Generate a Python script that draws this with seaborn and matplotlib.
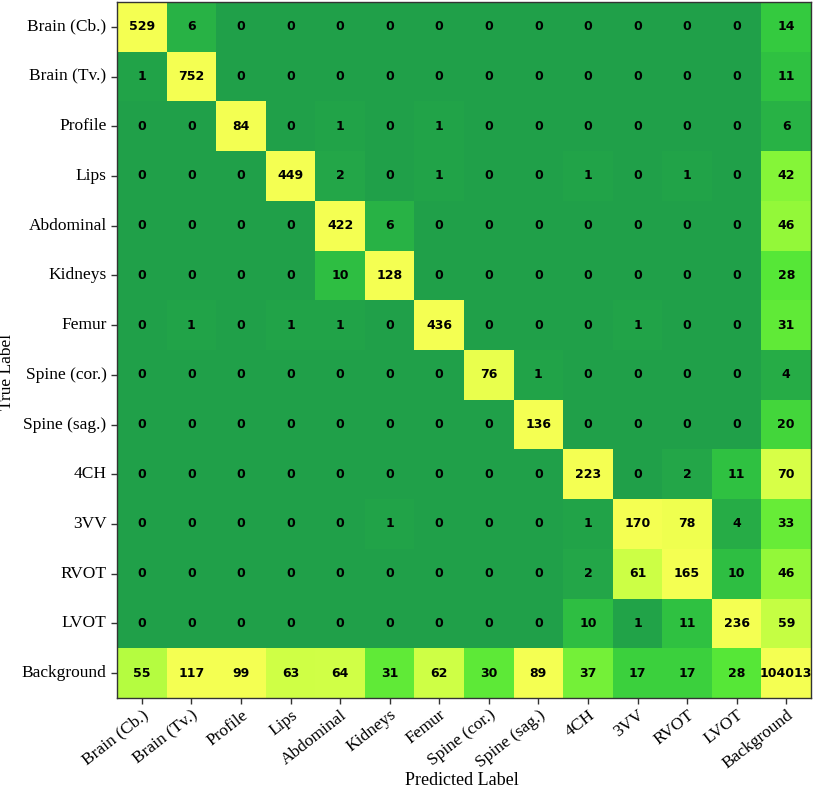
import numpy as np
import pandas as pd
import matplotlib
matplotlib.use("Agg")
import matplotlib.pyplot as plt
import seaborn as sns
from matplotlib.colors import LinearSegmentedColormap

labels = ["Brain (Cb.)", "Brain (Tv.)", "Profile", "Lips", "Abdominal", "Kidneys",
          "Femur", "Spine (cor.)", "Spine (sag.)", "4CH", "3VV", "RVOT", "LVOT", "Background"]

row_brain_cb = [529, 6, 0, 0, 0, 0, 0, 0, 0, 0, 0, 0, 0, 14]
row_brain_tv = [1, 752, 0, 0, 0, 0, 0, 0, 0, 0, 0, 0, 0, 11]
row_profile = [0, 0, 84, 0, 1, 0, 1, 0, 0, 0, 0, 0, 0, 6]
row_lips = [0, 0, 0, 449, 2, 0, 1, 0, 0, 1, 0, 1, 0, 42]
row_abdominal = [0, 0, 0, 0, 422, 6, 0, 0, 0, 0, 0, 0, 0, 46]
row_kidneys = [0, 0, 0, 0, 10, 128, 0, 0, 0, 0, 0, 0, 0, 28]
row_femur = [0, 1, 0, 1, 1, 0, 436, 0, 0, 0, 1, 0, 0, 31]
row_spine_cor = [0, 0, 0, 0, 0, 0, 0, 76, 1, 0, 0, 0, 0, 4]
row_spine_sag = [0, 0, 0, 0, 0, 0, 0, 0, 136, 0, 0, 0, 0, 20]
row_4ch = [0, 0, 0, 0, 0, 0, 0, 0, 0, 223, 0, 2, 11, 70]
row_3vv = [0, 0, 0, 0, 0, 1, 0, 0, 0, 1, 170, 78, 4, 33]
row_rvot = [0, 0, 0, 0, 0, 0, 0, 0, 0, 2, 61, 165, 10, 46]
row_lvot = [0, 0, 0, 0, 0, 0, 0, 0, 0, 10, 1, 11, 236, 59]
row_background = [55, 117, 99, 63, 64, 31, 62, 30, 89, 37, 17, 17, 28, 104013]

cm = pd.DataFrame([row_brain_cb, row_brain_tv, row_profile, row_lips, row_abdominal,
                   row_kidneys, row_femur, row_spine_cor, row_spine_sag, row_4ch,
                   row_3vv, row_rvot, row_lvot, row_background],
                  index=labels, columns=labels)

# green -> lime -> yellow
cmap = LinearSegmentedColormap.from_list(
    "greenyellow",
    [(0.0, "#20a049"), (0.16, "#33c93f"), (0.33, "#56e737"),
     (0.52, "#8cf738"), (0.72, "#cdff45"), (0.82, "#d6ff47"),
     (0.92, "#f0ff4f"), (1.0, "#f4ff52")])

fig = plt.figure(figsize=(8.15, 7.92), dpi=100)
ax = fig.add_axes([0.1436, 0.1187, 0.8515, 0.8788])

sns.heatmap(cm, annot=True, fmt="d", cmap=cmap, vmin=0, vmax=85, cbar=False,
            annot_kws={"fontsize": 9, "fontweight": "bold", "color": "black",
                       "family": "DejaVu Sans"},
            ax=ax)

for s in ax.spines.values():
    s.set_visible(True)
    s.set_color("#333333")
    s.set_linewidth(1.0)

ax.tick_params(axis="both", length=4, width=1, color="#333333")
ax.tick_params(axis="x", pad=2.5)
ax.set_xticklabels(labels, rotation=38, ha="right", rotation_mode="anchor",
                   family="Liberation Serif", fontsize=12.5)
ax.set_yticklabels(labels, rotation=0, family="Liberation Serif", fontsize=12.5)
ax.set_xlabel("Predicted Label", family="Liberation Serif", fontsize=13)
ax.set_ylabel("True Label", family="Liberation Serif", fontsize=12.5)
ax.xaxis.set_label_coords(0.497, -0.107)
ax.yaxis.set_label_coords(-0.1465, 0.468)

fig.savefig("out.png", dpi=100)
